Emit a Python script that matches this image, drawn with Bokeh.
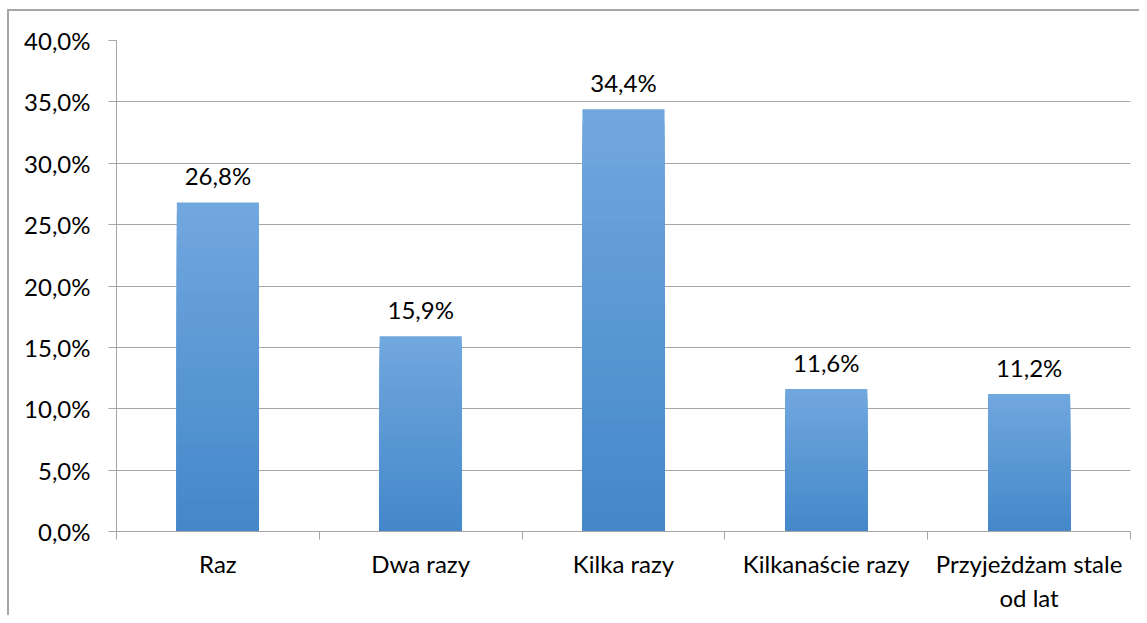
from bokeh.plotting import figure
from bokeh.models import Range1d, FixedTicker, ColumnDataSource
from bokeh.core.properties import value
from bokeh.embed import file_html
from bokeh.resources import INLINE

categories = ["Raz", "Dwa razy", "Kilka razy", "Kilkanaście razy", "Przyjeżdżam stale\nod lat"]
shares = [26.8, 15.9, 34.4, 11.6, 11.2]
y_ticks = [0, 5, 10, 15, 20, 25, 30, 35, 40]
y_tick_labels = ["0,0%", "5,0%", "10,0%", "15,0%", "20,0%", "25,0%", "30,0%", "35,0%", "40,0%"]

FONT = "Lato"
FS = "24px"
GRAY = "#a6a6a6"

p = figure(width=1139, height=615, output_backend="svg", toolbar_location=None,
           x_range=Range1d(0, len(categories)), y_range=Range1d(0, 40),
           min_border_left=116, min_border_right=9, min_border_top=40, min_border_bottom=83)
p.outline_line_color = None
p.background_fill_color = "white"
p.border_fill_alpha = 0
p.styles = {
    "background": "linear-gradient(#a6a6a6, #a6a6a6) 7px 9px / 100% 2px no-repeat, "
                  "linear-gradient(#a6a6a6, #a6a6a6) 7px 9px / 2px 100% no-repeat, white"
}

xs = [i + 0.5 for i in range(len(categories))]

# gradient bars: nested layers, lighter at top, darker at bottom
top_rgb = (0x72, 0xa8, 0xde)
bot_rgb = (0x44, 0x88, 0xca)
N = 30
for k in range(N, 0, -1):
    f = k / N
    t = (f - 1 / N)
    c = tuple(int(round(bot_rgb[j] + (top_rgb[j] - bot_rgb[j]) * t)) for j in range(3))
    col = "#%02x%02x%02x" % c
    p.vbar(x=xs, top=[v * f for v in shares], bottom=0, width=0.405,
           fill_color=col, line_color=None)

labels = [f"{v:.1f}".replace(".", ",") + "%" for v in shares]
src = ColumnDataSource(dict(x=xs, y=shares, t=labels))
p.text(x="x", y="y", text="t", source=src, text_align="center", text_baseline="middle",
       y_offset=-27, text_font=value(FONT), text_font_size=FS, text_color="#000000")

# y axis
p.yaxis.ticker = FixedTicker(ticks=y_ticks, minor_ticks=[])
p.yaxis.major_label_overrides = {t: l for t, l in zip(y_ticks, y_tick_labels)}
p.yaxis.axis_line_color = GRAY
p.yaxis.major_tick_line_color = GRAY
p.yaxis.major_tick_out = 8
p.yaxis.major_tick_in = 0
p.yaxis.minor_tick_line_color = None
p.yaxis.major_label_standoff = 18
p.yaxis.major_label_text_font = FONT
p.yaxis.major_label_text_font_size = FS
p.yaxis.major_label_text_color = "#000000"

# x axis: labels at category centers, ticks at category boundaries
p.xaxis.ticker = FixedTicker(ticks=xs, minor_ticks=list(range(len(categories) + 1)))
p.xaxis.major_label_overrides = {x: c for x, c in zip(xs, categories)}
p.xaxis.axis_line_color = GRAY
p.xaxis.major_tick_line_color = None
p.xaxis.major_tick_out = 0
p.xaxis.major_tick_in = 0
p.xaxis.minor_tick_line_color = GRAY
p.xaxis.minor_tick_out = 8
p.xaxis.minor_tick_in = 0
p.xaxis.major_label_standoff = 9
p.xaxis.major_label_text_font = FONT
p.xaxis.major_label_text_font_size = FS
p.xaxis.major_label_text_color = "#000000"

p.xgrid.grid_line_color = None
p.ygrid.ticker = FixedTicker(ticks=y_ticks, minor_ticks=[])
p.ygrid.grid_line_color = GRAY
p.ygrid.grid_line_width = 1

open("out.html", "w").write(file_html(p, INLINE))
